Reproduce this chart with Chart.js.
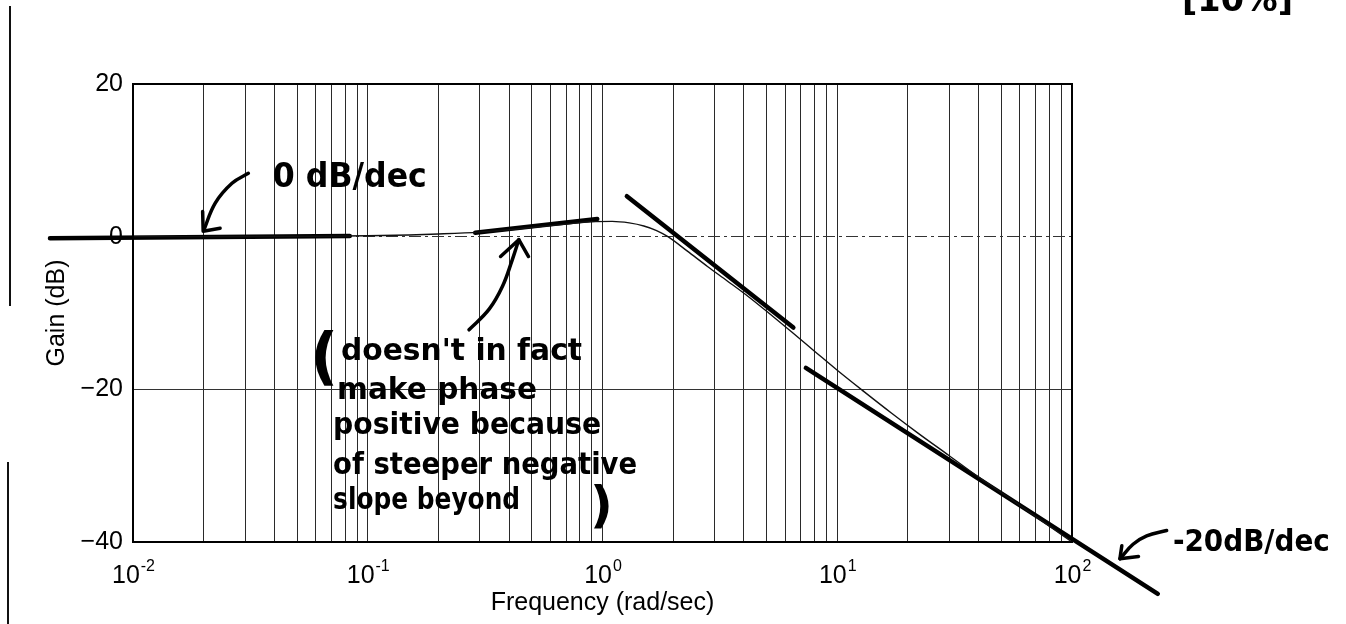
<!DOCTYPE html>
<html>
<head>
<meta charset="utf-8">
<title>Gain (dB) vs Frequency (rad/sec)</title>
<script src="https://cdn.jsdelivr.net/npm/chart.js@4.4.0/dist/chart.umd.min.js"></script>
<style>
  html, body { margin: 0; padding: 0; background: #fff; }
  canvas { display: block; }
</style>
</head>
<body>
<canvas id="chart-1" width="1346" height="624"></canvas>
<script>
Chart.defaults.font.family = "'Liberation Sans', Arial, Helvetica, sans-serif";
Chart.defaults.color = '#000';

const handFont = "'DejaVu Sans', sans-serif";

// Frequency response (rad/sec, dB)
const freq = [0.01, 0.03, 0.06, 0.1, 0.15, 0.2, 0.3, 0.4, 0.5, 0.7, 0.9, 1.1, 1.3, 1.5, 1.7, 1.9,
  2.3, 2.8, 3.4, 4.2, 5.2, 6.4, 8, 10, 13, 17, 22, 30, 40, 55, 75, 100];
const gainDb = [0, 0.02, 0.06, 0.12, 0.22, 0.35, 0.6, 0.9, 1.2, 1.65, 1.95, 2.0, 1.8, 1.4, 0.8, 0,
  -1.9, -3.9, -5.8, -7.9, -10.2, -12.5, -15.0, -17.5, -20.3, -23.1, -25.7, -28.7, -31.5, -34.4, -37.3, -40];

// hand-drawn asymptote strokes
const flatFreq = [0.00443, 0.0838];
const flatDb = [-0.2, 0.1];
const riseFreq = [0.287, 0.95];
const riseDb = [0.5, 2.3];
const midFreq = [1.27, 6.5];
const midDb = [5.3, -11.9];
const highFreq = [7.35, 232];
const highDb = [-17.2, -46.8];

// hand-drawn arrows (shaft + head)
const arrowZeroFreq = [0.031, 0.0264, 0.0224, 0.0200];
const arrowZeroDb = [8.3, 7.0, 4.4, 0.8];
const arrowZeroHeadFreq = [0.0198, 0.0199, 0.0235];
const arrowZeroHeadDb = [3.3, 0.7, 1.1];
const arrowNoteFreq = [0.27, 0.329, 0.375, 0.413, 0.44];
const arrowNoteDb = [-12.2, -9.5, -6.5, -3.0, -0.4];
const arrowNoteHeadFreq = [0.368, 0.44, 0.484];
const arrowNoteHeadDb = [-2.6, -0.4, -2.6];
const arrowSlopeFreq = [253, 208, 182, 160];
const arrowSlopeDb = [-38.5, -39.2, -40.3, -42.2];
const arrowSlopeHeadFreq = [163, 160, 192];
const arrowSlopeHeadDb = [-40.5, -42.2, -41.9];

// axes
const xDecades = [0.01, 0.1, 1, 10];
const xMultipliers = [1, 2, 3, 4, 5, 6, 7, 8, 9];
const xTickExps = [-2, -1, 0, 1, 2];
const yTicks = [20, 0, -20, -40];

// handwritten notes: text, anchor frequency, baseline dB
const noteTexts = ['0 dB/dec', '-20dB/dec', "doesn't in fact", 'make phase', 'positive because',
  'of steeper negative', 'slope beyond', '(', ')'];
const noteFreq = [0.0394, 269, 0.0769, 0.074, 0.0712, 0.0712, 0.0712, 0.0568, 0.885];
const noteDb = [6.5, -41.2, -16.1, -21.3, -25.9, -31.1, -35.7, -18.4, -37.4];
const noteStyle = [
  {size: 34, width: 154}, {size: 30, width: 157}, {size: 30, width: 241}, {size: 30, width: 200},
  {size: 30, width: 268}, {size: 30, width: 304}, {size: 30, width: 187}, {size: 62}, {size: 50}
];

const xGridValues = xDecades.flatMap(d => xMultipliers.map(m => +(d * m).toPrecision(3))).concat([100]);

function pts(xs, ys) {
  return xs.map((x, i) => ({x: x, y: ys[i]}));
}

function stroke(xs, ys, width, tension) {
  return {
    data: pts(xs, ys),
    borderColor: '#000',
    borderWidth: width,
    pointRadius: 0,
    tension: tension || 0,
    borderCapStyle: 'round',
    borderJoinStyle: 'round',
    clip: false
  };
}

const pageMarks = {
  id: 'pageMarks',
  afterDraw(chart) {
    const ctx = chart.ctx;
    const area = chart.chartArea;
    const xs = chart.scales.x;
    const ys = chart.scales.y;
    ctx.save();

    // plot frame
    ctx.strokeStyle = '#000';
    ctx.lineWidth = 2;
    ctx.strokeRect(area.left, area.top, area.right - area.left, area.bottom - area.top);

    // x tick labels as 10^n
    ctx.fillStyle = '#000';
    ctx.textBaseline = 'alphabetic';
    ctx.textAlign = 'left';
    xTickExps.forEach(e => {
      const px = xs.getPixelForValue(Math.pow(10, e));
      const expText = e < 0 ? '-' + (-e) : String(e);
      ctx.font = "25px 'Liberation Sans', Arial, sans-serif";
      const wBase = ctx.measureText('10').width;
      ctx.font = "16px 'Liberation Sans', Arial, sans-serif";
      const wExp = ctx.measureText(expText).width;
      const start = px - (wBase + wExp) / 2;
      ctx.font = "25px 'Liberation Sans', Arial, sans-serif";
      ctx.fillText('10', start, area.bottom + 41);
      ctx.font = "16px 'Liberation Sans', Arial, sans-serif";
      ctx.fillText(expText, start + wBase + 1, area.bottom + 29);
    });

    // handwritten notes
    noteTexts.forEach((t, i) => {
      const st = noteStyle[i];
      const px = xs.getPixelForValue(noteFreq[i]);
      const py = ys.getPixelForValue(noteDb[i]);
      ctx.font = 'bold ' + st.size + 'px ' + handFont;
      const w = ctx.measureText(t).width;
      ctx.save();
      ctx.translate(px, py);
      if (st.width) ctx.scale(st.width / w, 1);
      ctx.fillText(t, 0, 0);
      ctx.restore();
    });

    // grade mark in the corner, cut off by the page edge
    ctx.font = 'bold 34px ' + handFont;
    const g = '[10%]';
    const gw = ctx.measureText(g).width;
    ctx.save();
    ctx.translate(1182, 11);
    ctx.scale(111 / gw, 1);
    ctx.fillText(g, 0, 0);
    ctx.restore();

    // page edge line from the scan
    ctx.fillStyle = '#111';
    ctx.fillRect(9, 6, 2, 300);
    ctx.fillRect(7, 462, 2, 162);

    ctx.restore();
  }
};

new Chart('chart-1', {
  type: 'line',
  data: {
    datasets: [
      Object.assign(stroke(freq, gainDb, 1.4, 0), {cubicInterpolationMode: 'monotone', borderColor: '#111'}),
      stroke(flatFreq, flatDb, 4.5),
      stroke(riseFreq, riseDb, 4.5),
      stroke(midFreq, midDb, 4.5),
      stroke(highFreq, highDb, 4.5),
      stroke(arrowZeroFreq, arrowZeroDb, 3.5, 0.4),
      stroke(arrowZeroHeadFreq, arrowZeroHeadDb, 3.5),
      stroke(arrowNoteFreq, arrowNoteDb, 3.5, 0.4),
      stroke(arrowNoteHeadFreq, arrowNoteHeadDb, 3.5),
      stroke(arrowSlopeFreq, arrowSlopeDb, 3.5, 0.4),
      stroke(arrowSlopeHeadFreq, arrowSlopeHeadDb, 3.5)
    ]
  },
  options: {
    responsive: false,
    animation: false,
    events: [],
    layout: {
      padding: {left: 0, right: 274, top: 84, bottom: 0}
    },
    plugins: {
      legend: {display: false},
      tooltip: {enabled: false}
    },
    scales: {
      x: {
        type: 'logarithmic',
        min: 0.01,
        max: 100,
        afterBuildTicks: axis => {
          axis.ticks = xGridValues.map(v => ({value: v}));
        },
        afterFit: axis => {
          axis.height = 82;
        },
        ticks: {display: false},
        grid: {
          color: '#2a2a2a',
          lineWidth: 1,
          drawTicks: false
        },
        border: {display: false},
        title: {
          display: true,
          text: 'Frequency (rad/sec)',
          font: {size: 25},
          padding: {top: 0, bottom: 6}
        }
      },
      y: {
        type: 'linear',
        min: -40,
        max: 20,
        afterBuildTicks: axis => {
          axis.ticks = yTicks.map(v => ({value: v}));
        },
        afterFit: axis => {
          axis.width = 133;
        },
        ticks: {
          font: {size: 25},
          padding: 10,
          callback: v => v < 0 ? '\u2212' + (-v) : String(v)
        },
        grid: {
          drawTicks: false,
          lineWidth: 1,
          color: c => (c.tick && (c.tick.value === 0 || c.tick.value === -20)) ? '#333' : 'rgba(0,0,0,0)'
        },
        border: {
          display: false,
          dash: c => (c.tick && c.tick.value === 0) ? [12, 4, 3, 4] : []
        },
        title: {
          display: true,
          text: 'Gain (dB)',
          font: {size: 25},
          padding: {top: 42, bottom: 0}
        }
      }
    }
  },
  plugins: [pageMarks]
});
</script>
</body>
</html>
